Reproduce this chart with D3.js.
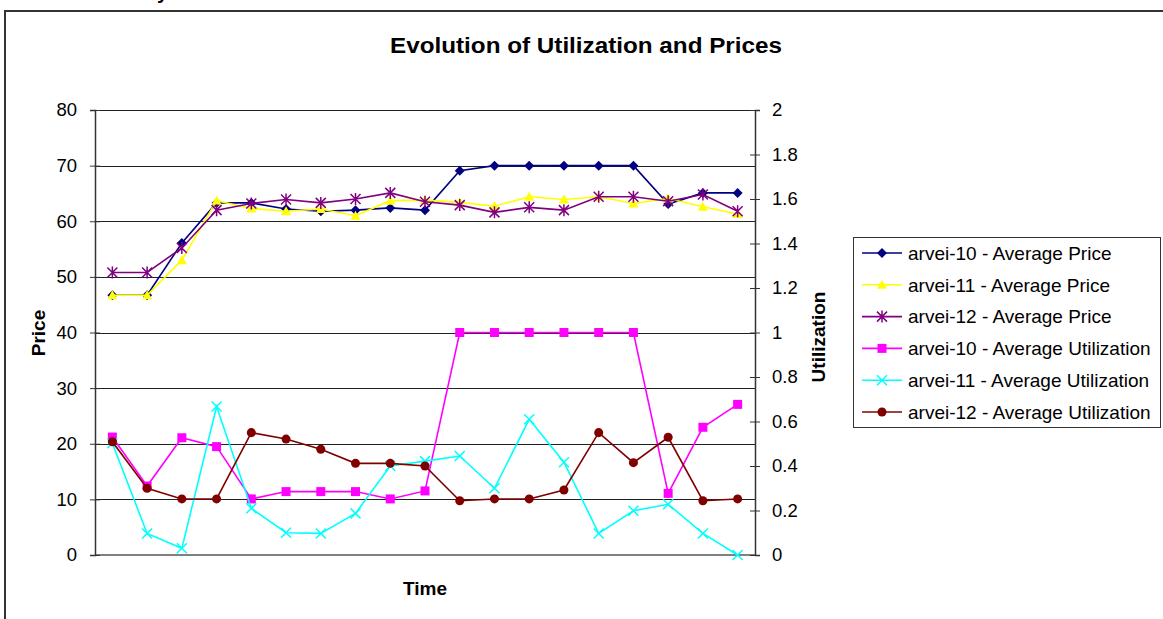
<!DOCTYPE html>
<meta charset="utf-8">
<script src="https://d3js.org/d3.v7.min.js"></script>
<style>
  body { margin: 0; background: #fff; }
  text { font-family: "Liberation Sans", Arial, sans-serif; }
</style>
<body>
<div id="chart"></div>
<script>

// Data: 19 time steps, no labels on the time axis
var steps = d3.range(1, 20);

var priceTicks = [0, 10, 20, 30, 40, 50, 60, 70, 80];
var utilTicks = [0, 0.2, 0.4, 0.6, 0.8, 1, 1.2, 1.4, 1.6, 1.8, 2];

var price10 = [46.7, 46.7, 56.1, 63.3, 63.3, 62.2, 61.8, 62.0, 62.4, 62.0, 69.1, 70, 70, 70, 70, 70, 63.1, 65.1, 65.1];
var price11 = [46.7, 46.7, 53.0, 63.7, 62.3, 61.8, 62.2, 61.0, 63.7, 63.8, 63.4, 62.7, 64.4, 63.9, 64.4, 63.2, 64.1, 62.6, 61.3];
var price12 = [50.8, 50.8, 55.2, 62.0, 63.2, 63.9, 63.3, 64.0, 65.1, 63.5, 62.9, 61.6, 62.5, 62.0, 64.4, 64.4, 63.6, 64.8, 61.8];

var util10 = [0.53, 0.31, 0.527, 0.487, 0.252, 0.285, 0.285, 0.285, 0.252, 0.288, 1, 1, 1, 1, 1, 1, 0.277, 0.574, 0.677];
var util11 = [0.502, 0.097, 0.03, 0.667, 0.21, 0.1, 0.097, 0.187, 0.4, 0.422, 0.445, 0.3, 0.61, 0.417, 0.097, 0.199, 0.228, 0.097, 0];
var util12 = [0.509, 0.3, 0.252, 0.252, 0.55, 0.521, 0.475, 0.412, 0.412, 0.4, 0.244, 0.252, 0.252, 0.292, 0.55, 0.415, 0.529, 0.244, 0.252];

var series = [
  {name: "arvei-10 - Average Price", values: price10, axis: "price", color: "#000080", marker: "diamond"},
  {name: "arvei-11 - Average Price", values: price11, axis: "price", color: "#FFFF00", marker: "triangle"},
  {name: "arvei-12 - Average Price", values: price12, axis: "price", color: "#800080", marker: "star"},
  {name: "arvei-10 - Average Utilization", values: util10, axis: "util", color: "#FF00FF", marker: "square"},
  {name: "arvei-11 - Average Utilization", values: util11, axis: "util", color: "#00FFFF", marker: "x"},
  {name: "arvei-12 - Average Utilization", values: util12, axis: "util", color: "#800000", marker: "circle"}
];

var W = 1163, H = 619;
var plot = {left: 95, right: 755, top: 110, bottom: 555};

var svg = d3.select("#chart").append("svg")
  .attr("width", W)
  .attr("height", H);

// outer chart border (runs off the right and bottom edges)
svg.append("rect")
  .attr("x", 5).attr("y", 11)
  .attr("width", 1300).attr("height", 800)
  .attr("fill", "#fff")
  .attr("stroke", "#333")
  .attr("stroke-width", 2);

// bit of text cut off above the chart
svg.append("text")
  .attr("x", 157).attr("y", -1)
  .attr("font-size", 20)
  .attr("font-weight", "bold")
  .text("y");

var x = d3.scalePoint()
  .domain(steps)
  .range([plot.left, plot.right])
  .padding(0.5);

var yPrice = d3.scaleLinear().domain([0, 80]).range([plot.bottom, plot.top]);
var yUtil = d3.scaleLinear().domain([0, 2]).range([plot.bottom, plot.top]);

// gridlines
svg.append("g")
  .selectAll("line")
  .data(priceTicks.filter(function(d) { return d > 0; }))
  .enter().append("line")
    .attr("x1", plot.left).attr("x2", plot.right)
    .attr("y1", function(d) { return Math.round(yPrice(d)) + 0.5; })
    .attr("y2", function(d) { return Math.round(yPrice(d)) + 0.5; })
    .attr("stroke", "#222")
    .attr("stroke-width", 1);

// bottom axis line
svg.append("line")
  .attr("x1", plot.left).attr("x2", plot.right)
  .attr("y1", plot.bottom).attr("y2", plot.bottom)
  .attr("stroke", "#808080")
  .attr("stroke-width", 2);

// left axis
var leftAxis = svg.append("g")
  .attr("transform", "translate(" + plot.left + ",0)")
  .call(d3.axisLeft(yPrice).tickValues(priceTicks).tickSize(5).tickPadding(13));
leftAxis.select(".domain").attr("stroke", "#333").attr("stroke-width", 1.5);
leftAxis.selectAll(".tick line").attr("x2", 5).attr("x1", -5).attr("stroke", "#333");
leftAxis.selectAll(".tick text")
  .attr("font-size", 18.5)
  .attr("font-family", "'Liberation Sans', Arial, sans-serif")
  .attr("fill", "#000");

// right axis
var rightAxis = svg.append("g")
  .attr("transform", "translate(" + plot.right + ",0)")
  .call(d3.axisRight(yUtil).tickValues(utilTicks).tickSize(5).tickPadding(12)
    .tickFormat(function(d) { return String(d); }));
rightAxis.select(".domain").attr("stroke", "#333").attr("stroke-width", 1.5);
rightAxis.selectAll(".tick line").attr("x1", -5).attr("x2", 5).attr("stroke", "#333");
rightAxis.selectAll(".tick text")
  .attr("font-size", 18.5)
  .attr("font-family", "'Liberation Sans', Arial, sans-serif")
  .attr("fill", "#000");

// marker glyphs
function markerPath(type) {
  var s = 5;
  if (type == "diamond") return "M0,-" + s + "L" + s + ",0L0," + s + "L-" + s + ",0Z";
  if (type == "triangle") return "M0,-" + s + "L" + s + "," + (s - 1) + "L-" + s + "," + (s - 1) + "Z";
  if (type == "square") return "M-4.5,-4.5H4.5V4.5H-4.5Z";
  if (type == "circle") return d3.symbol().type(d3.symbolCircle).size(64)();
  if (type == "x") return "M-5,-5L5,5M5,-5L-5,5";
  if (type == "star") return "M-5,-5L5,5M5,-5L-5,5M0,-6V6";
}
function isStroked(type) { return type == "x" || type == "star"; }

var line = function(yScale) {
  return d3.line()
    .x(function(d, i) { return x(steps[i]); })
    .y(function(d) { return yScale(d); });
};

series.forEach(function(s) {
  var yScale = s.axis == "price" ? yPrice : yUtil;
  var g = svg.append("g");
  g.append("path")
    .datum(s.values)
    .attr("fill", "none")
    .attr("stroke", s.color)
    .attr("stroke-width", 1.6)
    .attr("d", line(yScale));
  g.selectAll(".m")
    .data(s.values)
    .enter().append("path")
      .attr("transform", function(d, i) { return "translate(" + x(steps[i]) + "," + yScale(d) + ")"; })
      .attr("d", markerPath(s.marker))
      .attr("fill", isStroked(s.marker) ? "none" : s.color)
      .attr("stroke", s.color)
      .attr("stroke-width", isStroked(s.marker) ? 1.5 : 0);
});

// title and axis labels
svg.append("text")
  .attr("x", 586).attr("y", 53)
  .attr("text-anchor", "middle")
  .attr("font-size", 22)
  .attr("font-weight", "bold")
  .attr("textLength", 392)
  .attr("lengthAdjust", "spacingAndGlyphs")
  .text("Evolution of Utilization and Prices");

svg.append("text")
  .attr("x", 425).attr("y", 595)
  .attr("text-anchor", "middle")
  .attr("font-size", 19)
  .attr("font-weight", "bold")
  .text("Time");

svg.append("text")
  .attr("transform", "translate(45,333) rotate(-90)")
  .attr("text-anchor", "middle")
  .attr("font-size", 19)
  .attr("font-weight", "bold")
  .text("Price");

svg.append("text")
  .attr("transform", "translate(825,337) rotate(-90)")
  .attr("text-anchor", "middle")
  .attr("font-size", 19)
  .attr("font-weight", "bold")
  .text("Utilization");

// legend
var legend = svg.append("g");
legend.append("rect")
  .attr("x", 853.5).attr("y", 237.5)
  .attr("width", 307).attr("height", 190)
  .attr("fill", "#fff")
  .attr("stroke", "#333")
  .attr("stroke-width", 1);

var item = legend.selectAll(".item")
  .data(series)
  .enter().append("g")
    .attr("transform", function(d, i) { return "translate(0," + (253 + i * 31.8) + ")"; });
item.append("line")
  .attr("x1", 862).attr("x2", 902)
  .attr("stroke", function(d) { return d.color; })
  .attr("stroke-width", 1.6);
item.append("path")
  .attr("transform", "translate(882,0)")
  .attr("d", function(d) { return markerPath(d.marker); })
  .attr("fill", function(d) { return isStroked(d.marker) ? "none" : d.color; })
  .attr("stroke", function(d) { return d.color; })
  .attr("stroke-width", function(d) { return isStroked(d.marker) ? 1.5 : 0; });
item.append("text")
  .attr("x", 908).attr("y", 0)
  .attr("dy", "0.36em")
  .attr("font-size", 19)
  .text(function(d) { return d.name; });

</script>
</body>
